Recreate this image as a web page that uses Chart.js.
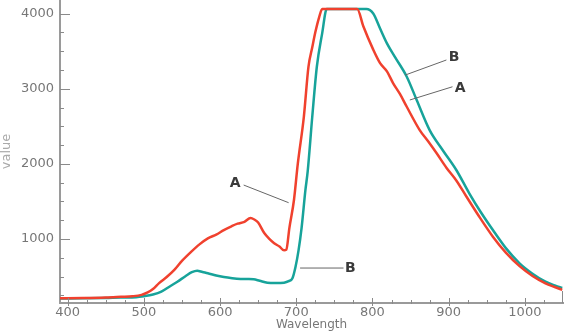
<!DOCTYPE html>
<html>
<head>
<meta charset="utf-8">
<script src="https://cdn.jsdelivr.net/npm/chart.js@4.4.1/dist/chart.umd.min.js"></script>
<style>
html,body{margin:0;padding:0;background:#fff;}
#c{display:block;}
</style>
</head>
<body>
<canvas id="c" width="568" height="332"></canvas>
<script>
// Series A (red)
const aWavelength = [390,420,450,470,485,497,505,512,520,530,540,550,562,573,584,595,605,615,623,632,640,645,650,658,665,671,678,684,687,691,697,702,710,716,721,725,730,734,780,788,801,810,819,827,836,845,862,873,884,897,910,923,940,958,975,993,1010,1027,1040,1049];
const aValue      = [212,215,222,232,240,258,290,335,415,495,590,710,830,930,1010,1060,1120,1170,1205,1230,1280,1260,1220,1080,1000,945,900,850,860,1150,1520,2000,2630,3290,3550,3750,3950,4060,4060,3830,3520,3340,3230,3076,2930,2760,2450,2300,2144,1950,1780,1570,1300,1032,820,640,510,412,360,325];
// Series B (teal)
const bWavelength = [390,420,450,470,490,500,512,523,534,544,555,563,570,577,584,595,605,616,627,636,644,652,662,673,684,690,695,699,703,707,712,715,721,727,734,740,792,801,810,819,829,845,858,875,892,910,927,942,958,975,993,1010,1027,1040,1049];
const bValue      = [210,212,218,224,228,240,262,300,370,433,510,560,580,562,545,515,495,480,470,468,465,445,420,415,420,440,480,630,850,1150,1650,1900,2627,3292,3736,4060,4060,4000,3800,3603,3430,3160,2850,2450,2185,1919,1609,1360,1120,880,678,540,433,380,350];

const xTicks = [400,500,600,700,800,900,1000];
const yTicks = [1000,2000,3000,4000];
const xMinor = [400,425,450,475,500,525,550,575,600,625,650,675,700,725,750,775,800,825,850,875,900,925,950,975,1000,1025];
const yMinor = [250,500,750,1000,1250,1500,1750,2000,2250,2500,2750,3000,3250,3500,3750,4000];

// Callouts: label, text position, leader start, leader end (data coordinates)
const callouts = [
  {label:'A', text:[620, 1745], from:[631, 1719], to:[690, 1484]},
  {label:'B', text:[771, 615],  from:[705, 615],  to:[762, 615]},
  {label:'B', text:[907, 3422], from:[843, 3182], to:[897, 3382]},
  {label:'A', text:[915, 3010], from:[849, 2850], to:[905, 3026]}
];

const toPts = (xs, ys) => xs.map((x,i)=>({x:x, y:ys[i]}));

const decor = {
  id:'decor',
  afterDraw(chart){
    const ctx = chart.ctx, xs = chart.scales.x, ys = chart.scales.y;
    const left = xs.left, bottom = ys.bottom;
    ctx.save();
    ctx.strokeStyle = '#8a8a8a';
    ctx.lineWidth = 1;
    ctx.beginPath();
    yMinor.forEach(v=>{
      const py = Math.round(ys.getPixelForValue(v))+0.5;
      const len = (v % 1000 === 0) ? 10 : 4;
      ctx.moveTo(left, py); ctx.lineTo(left+len, py);
    });
    xMinor.forEach(v=>{
      const px = Math.round(xs.getPixelForValue(v))+0.5;
      if (v % 100 === 0){ ctx.moveTo(px, bottom-5); ctx.lineTo(px, bottom+3); }
      else { ctx.moveTo(px, bottom-3); ctx.lineTo(px, bottom+1); }
    });
    const pr = Math.round(xs.getPixelForValue(xs.max))-0.5;
    ctx.moveTo(pr, bottom-12); ctx.lineTo(pr, bottom);
    ctx.stroke();
    // callouts
    ctx.strokeStyle = '#666';
    ctx.lineWidth = 1;
    ctx.fillStyle = '#3a3a3a';
    ctx.font = 'bold 14px "DejaVu Sans"';
    ctx.textBaseline = 'middle';
    ctx.textAlign = 'center';
    callouts.forEach(c=>{
      ctx.beginPath();
      ctx.moveTo(xs.getPixelForValue(c.from[0]), ys.getPixelForValue(c.from[1]));
      ctx.lineTo(xs.getPixelForValue(c.to[0]), ys.getPixelForValue(c.to[1]));
      ctx.stroke();
      ctx.fillText(c.label, xs.getPixelForValue(c.text[0]), ys.getPixelForValue(c.text[1]));
    });
    ctx.restore();
  }
};

new Chart(document.getElementById('c'), {
  type:'line',
  data:{
    datasets:[
      {label:'A', data:toPts(aWavelength, aValue), borderColor:'#f0412e', borderWidth:2.5, pointRadius:0, fill:false, cubicInterpolationMode:'monotone'},
      {label:'B', data:toPts(bWavelength, bValue), borderColor:'#17a39a', borderWidth:2.5, pointRadius:0, fill:false, cubicInterpolationMode:'monotone'}
    ]
  },
  options:{
    responsive:false,
    animation:false,
    devicePixelRatio:1,
    layout:{padding:{left:0,right:5,top:0,bottom:0}},
    plugins:{legend:{display:false}, tooltip:{enabled:false}},
    scales:{
      x:{
        type:'linear', min:390, max:1050,
        grid:{display:false, drawTicks:false},
        border:{display:true, color:'#9a9a9a', width:2},
        afterBuildTicks(s){ s.ticks = xTicks.map(v=>({value:v})); },
        afterFit(s){ s.height = 29; s.paddingLeft = 0; s.paddingRight = 0; },
        ticks:{color:'#777', padding:2, font:{family:'"DejaVu Sans"', size:13}, maxRotation:0, callback:v=>String(v)},
        title:{display:true, text:'Wavelength', color:'#777', padding:{top:0,bottom:0}, font:{family:'"DejaVu Sans"', size:12}}
      },
      y:{
        type:'linear', min:150, max:4180,
        grid:{display:false, drawTicks:false},
        border:{display:true, color:'#9a9a9a', width:2},
        afterBuildTicks(s){ s.ticks = yTicks.map(v=>({value:v})); },
        afterFit(s){ s.width = 60; s.paddingTop = 0; s.paddingBottom = 0; },
        ticks:{color:'#777', padding:6, font:{family:'"DejaVu Sans"', size:13}, callback:v=>String(v)},
        title:{display:true, text:'value', color:'#aaa', padding:{top:0,bottom:0}, font:{family:'"DejaVu Sans"', size:13, lineHeight:1}}
      }
    }
  },
  plugins:[decor]
});
</script>
</body>
</html>
